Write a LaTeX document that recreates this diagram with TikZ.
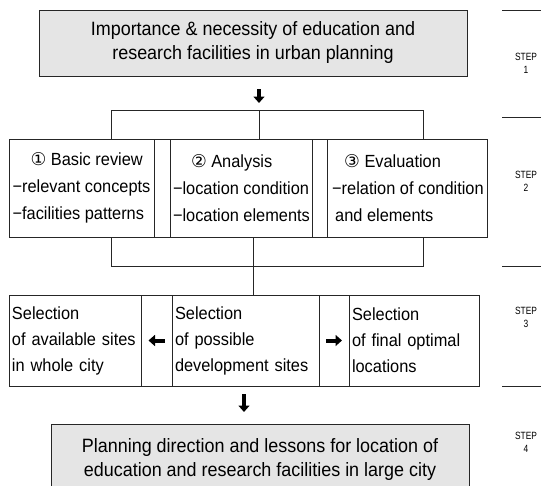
\documentclass[tikz,border=0pt]{standalone}
\usepackage{fontspec}
\setmainfont{Liberation Sans}[FakeStretch=0.93]
\newfontfamily\circfont{DejaVu Sans}[Scale=1.0]
\newfontfamily\stepfont{Liberation Sans}[FakeStretch=0.8]
\usetikzlibrary{positioning,arrows.meta}
\newcommand\cnum[1]{{\circfont #1}}
\begin{document}
\begin{tikzpicture}[x=1pt,y=-1pt,
  line/.style={draw=black!85,line width=0.9pt},
  box/.style={line,rectangle,outer sep=0pt,inner xsep=3pt,inner ysep=0pt},
  headbox/.style={box,fill=black!10,align=center,font=\fontsize{19.3}{24}\selectfont},
  studybox/.style={box,minimum height=98pt,align=left,font=\fontsize{17.6}{27}\selectfont},
  sitebox/.style={box,minimum height=91pt,align=left,font=\fontsize{17.6}{26}\selectfont},
  blockarrow/.style={line width=4pt,-{Triangle[width=11pt,length=6.5pt]}},
  steplabel/.style={align=center,font=\stepfont\fontsize{10.5}{13}\selectfont}]
\clip (0,0) rectangle (541,485);
\node[headbox,minimum width=428pt,minimum height=66pt] (importance) at (253,43)
  {Importance \& necessity of education and\\research facilities in urban planning};
\node[studybox,minimum width=145pt] (review) at (81.5,188)
  {\hspace*{18pt}\cnum{①} Basic review\\−relevant concepts\\−facilities patterns};
\node[studybox,minimum width=16pt,right=0pt of review] (gap1) {};
\node[studybox,minimum width=142pt,right=0pt of gap1] (analysis)
  {\hspace*{18pt}\cnum{②} Analysis\\−location condition\\−location elements};
\node[studybox,minimum width=15pt,right=0pt of analysis] (gap2) {};
\node[studybox,minimum width=160pt,right=0pt of gap2] (evaluation)
  {\hspace*{12pt}\cnum{③} Evaluation\\−relation of condition\\\hspace*{3pt}and elements};
\node[sitebox,text width=126pt] (whole) at (75,340.5)
  {Selection\\of available sites\\in whole city};
\node[sitebox,minimum width=31pt,right=0pt of whole] (gapl) {};
\node[sitebox,text width=141pt,right=0pt of gapl] (possible)
  {Selection\\of possible\\development sites};
\node[sitebox,minimum width=30pt,right=0pt of possible] (gapr) {};
\node[sitebox,text width=124pt,right=0pt of gapr] (optimal)
  {Selection\\of final optimal\\locations};
\node[headbox,minimum width=418pt,inner ysep=14.5pt,anchor=north] (lessons) at (260,424)
  {Planning direction and lessons for location of\\education and research facilities in large city};
\coordinate (tl) at (111,110);
\coordinate (tr) at (423,110);
\coordinate (tc) at (259,110);
\coordinate (bl) at (111,266);
\coordinate (br) at (423,266);
\coordinate (bc) at (253,266);
\draw[line] (review.north -| tl) -- (tl) -- (tr) -- (evaluation.north -| tr);
\draw[line] (tc) -- (tc |- analysis.north);
\draw[line] (review.south -| bl) -- (bl) -- (br) -- (evaluation.south -| br);
\draw[line] (analysis.south -| bc) -- (possible.north -| bc);
\coordinate (arrowa) at (259,89);
\coordinate (arrowb) at (244,394);
\draw[blockarrow] (arrowa) -- ++(0,14);
\draw[blockarrow] (arrowb) -- ++(0,18);
\draw[blockarrow] ([xshift=8pt]gapl.center) -- ([xshift=-8pt]gapl.center);
\draw[blockarrow] ([xshift=-8pt]gapr.center) -- ([xshift=8pt]gapr.center);
\foreach \y in {10,117,266,386} \draw[line] (502,\y) -- (541,\y);
\foreach \y/\n in {63/1,181/2,317/3,442/4} \node[steplabel] (step\n) at (526,\y) {STEP\\\n};
\end{tikzpicture}
\end{document}
